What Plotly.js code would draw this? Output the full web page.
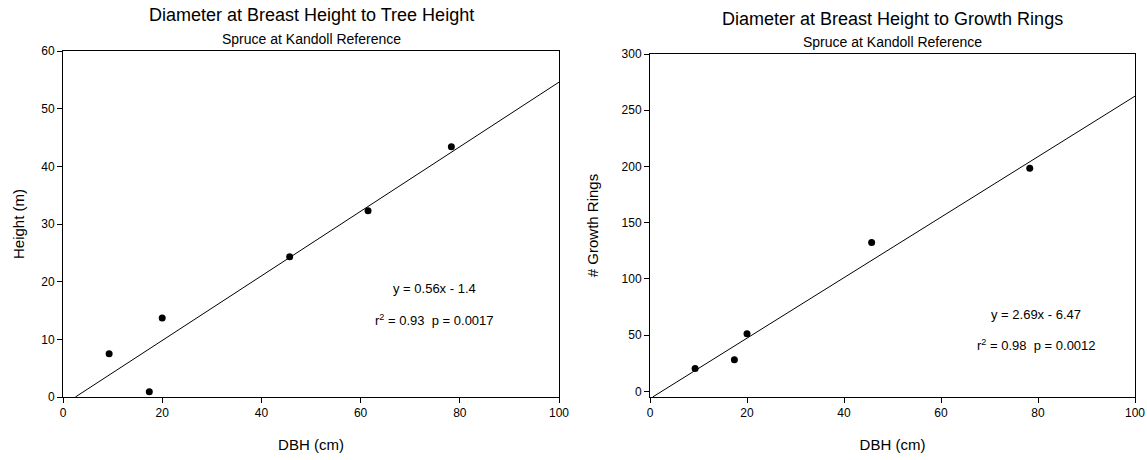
<!DOCTYPE html>
<html>
<head>
<meta charset="utf-8">
<script src="https://cdn.plot.ly/plotly-3.0.1.min.js"></script>
<style>html,body{margin:0;padding:0;background:#fff}#chart{width:1147px;height:460px}</style>
</head>
<body>
<div id="chart"></div>
<script>
// Data
const dbhHeight = [9.3, 17.4, 20.0, 45.7, 61.5, 78.3];
const heightM = [7.5, 0.9, 13.7, 24.3, 32.3, 43.4];
const dbhRings = [9.3, 17.4, 20.0, 45.7, 78.3];
const growthRings = [20.3, 28.2, 51.2, 132.3, 198.5];
const fitSlopes = [0.56, 2.69];
const fitIntercepts = [-1.4, -6.47];
const fitLabels = ["y = 0.56x - 1.4", "y = 2.69x - 6.47"];
const statLabels = ["r<sup>2</sup> = 0.93  p = 0.0017", "r<sup>2</sup> = 0.98  p = 0.0012"];
const titles = ["Diameter at Breast Height to Tree Height", "Diameter at Breast Height to Growth Rings"];
const subtitle = "Spruce at Kandoll Reference";
const xTicks = [0, 20, 40, 60, 80, 100];
const yTicks1 = [0, 10, 20, 30, 40, 50, 60];
const yTicks2 = [0, 50, 100, 150, 200, 250, 300];

const FONT = "Liberation Sans, Arial, Helvetica, sans-serif";
const yMin = [0, -5];
function fitLine(i) {
  const m = fitSlopes[i], b = fitIntercepts[i];
  const x0 = (yMin[i] - b) / m;
  return {x: [x0, 100], y: [m * x0 + b, m * 100 + b]};
}
const l1 = fitLine(0), l2 = fitLine(1);

const marker = {color: '#000', size: 7};
const traces = [
  {x: l1.x, y: l1.y, mode: 'lines', line: {color: '#000', width: 1}, xaxis: 'x', yaxis: 'y', hoverinfo: 'skip'},
  {x: dbhHeight, y: heightM, mode: 'markers', marker: marker, xaxis: 'x', yaxis: 'y'},
  {x: l2.x, y: l2.y, mode: 'lines', line: {color: '#000', width: 1}, xaxis: 'x2', yaxis: 'y2', hoverinfo: 'skip'},
  {x: dbhRings, y: growthRings, mode: 'markers', marker: marker, xaxis: 'x2', yaxis: 'y2'}
];

function axisBase(extra) {
  return Object.assign({
    showgrid: false, zeroline: false, showline: true, linecolor: '#000', linewidth: 1,
    mirror: true, ticks: 'outside', ticklen: 5, tickwidth: 1, tickcolor: '#000',
    tickfont: {family: FONT, size: 12, color: '#000'}, fixedrange: true
  }, extra);
}

const dL = [63 / 1147, 559 / 1147], dR = [650 / 1147, 1135 / 1147];
const cL = (dL[0] + dL[1]) / 2, cR = (dR[0] + dR[1]) / 2;
const layout = {
  width: 1147, height: 460, showlegend: false,
  paper_bgcolor: '#fff', plot_bgcolor: '#fff',
  margin: {l: 0, r: 0, t: 0, b: 0},
  font: {family: FONT, color: '#000'},
  xaxis: axisBase({domain: dL, range: [0, 100], tickvals: xTicks, anchor: 'y',
    title: {text: 'DBH (cm)', font: {family: FONT, size: 15}, standoff: 20}}),
  yaxis: axisBase({domain: [63 / 460, 409 / 460], range: [0, 60], tickvals: yTicks1, anchor: 'x',
    title: {text: 'Height (m)', font: {family: FONT, size: 15}, standoff: 12}}),
  xaxis2: axisBase({domain: dR, range: [0, 100], tickvals: xTicks, anchor: 'y2',
    title: {text: 'DBH (cm)', font: {family: FONT, size: 15}, standoff: 20}}),
  yaxis2: axisBase({domain: [63 / 460, 406 / 460], range: [-5, 300], tickvals: yTicks2, anchor: 'x2',
    title: {text: '# Growth Rings', font: {family: FONT, size: 15}, standoff: 19}}),
  annotations: [
    {text: titles[0], xref: 'paper', yref: 'paper', x: cL, xanchor: 'center', y: 1 - 15.5 / 460, yanchor: 'middle', showarrow: false, font: {family: FONT, size: 18}},
    {text: subtitle, xref: 'paper', yref: 'paper', x: cL, xanchor: 'center', y: 1 - 38.5 / 460, yanchor: 'middle', showarrow: false, font: {family: FONT, size: 14}},
    {text: titles[1], xref: 'paper', yref: 'paper', x: cR, xanchor: 'center', y: 1 - 19 / 460, yanchor: 'middle', showarrow: false, font: {family: FONT, size: 18}},
    {text: subtitle, xref: 'paper', yref: 'paper', x: cR, xanchor: 'center', y: 1 - 42 / 460, yanchor: 'middle', showarrow: false, font: {family: FONT, size: 14}},
    {text: fitLabels[0], xref: 'x', yref: 'y', x: 74.9, y: 18.8, xanchor: 'center', showarrow: false, font: {family: FONT, size: 13}},
    {text: statLabels[0], xref: 'x', yref: 'y', x: 74.9, y: 13.3, xanchor: 'center', showarrow: false, font: {family: FONT, size: 13}},
    {text: fitLabels[1], xref: 'x2', yref: 'y2', x: 79.6, y: 68, xanchor: 'center', showarrow: false, font: {family: FONT, size: 13}},
    {text: statLabels[1], xref: 'x2', yref: 'y2', x: 79.7, y: 40.8, xanchor: 'center', showarrow: false, font: {family: FONT, size: 13}}
  ]
};

Plotly.newPlot('chart', traces, layout, {displayModeBar: false, staticPlot: true});
</script>
</body>
</html>
